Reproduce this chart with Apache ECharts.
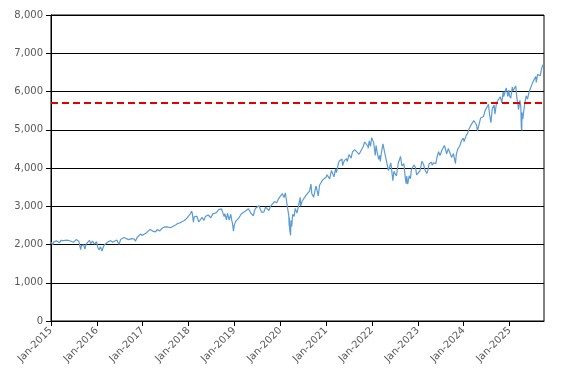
<!DOCTYPE html>
<html>
<head>
<meta charset="utf-8">
<script src="https://cdn.jsdelivr.net/npm/echarts@6/dist/echarts.min.js"></script>
<style>html,body{margin:0;padding:0;background:#fff}#c{width:572px;height:384px}</style>
</head>
<body>
<div id="c"></div>
<script>
// Index closes: [date, value]
var spx = [
['2015-01-02',2058],['2015-01-15',1992],['2015-01-22',2063],['2015-02-02',2021],['2015-02-13',2096],['2015-02-25',2113],['2015-03-10',2044],['2015-03-20',2108],['2015-03-26',2056],['2015-04-10',2102],['2015-04-24',2117],['2015-05-08',2116],['2015-05-21',2131],['2015-06-05',2092],['2015-06-19',2110],['2015-06-29',2057],['2015-07-08',2046],['2015-07-20',2128],['2015-07-31',2104],['2015-08-11',2084],['2015-08-20',2035],['2015-08-25',1868],['2015-08-31',1972],['2015-09-10',1952],['2015-09-17',1995],['2015-09-28',1881],['2015-10-09',2014],['2015-10-22',2052],['2015-11-03',2109],['2015-11-13',2023],['2015-11-27',2090],['2015-12-02',2079],['2015-12-14',2012],['2015-12-29',2078],
['2016-01-08',1922],['2016-01-20',1859],['2016-01-29',1940],['2016-02-11',1829],['2016-02-22',1946],['2016-03-04',1999],['2016-03-17',2040],['2016-04-01',2072],['2016-04-20',2102],['2016-05-06',2057],['2016-05-19',2040],['2016-06-08',2119],['2016-06-16',2077],['2016-06-27',2001],['2016-07-08',2129],['2016-07-21',2165],['2016-08-05',2183],['2016-08-15',2190],['2016-09-09',2128],['2016-09-22',2177],['2016-10-07',2153],['2016-10-25',2143],['2016-11-04',2085],['2016-11-16',2176],['2016-12-01',2191],['2016-12-13',2271],['2016-12-30',2239],
['2017-01-13',2274],['2017-01-26',2296],['2017-02-10',2316],['2017-03-01',2395],['2017-03-14',2365],['2017-03-27',2341],['2017-04-13',2329],['2017-04-25',2388],['2017-05-17',2357],['2017-05-31',2412],['2017-06-09',2432],['2017-06-19',2453],['2017-06-29',2419],['2017-07-14',2459],['2017-07-27',2475],['2017-08-10',2438],['2017-08-18',2425],['2017-09-01',2476],['2017-09-20',2508],['2017-10-06',2549],['2017-10-23',2564],['2017-11-08',2594],['2017-11-15',2565],['2017-11-29',2626],['2017-12-15',2675],['2017-12-29',2673],
['2018-01-12',2786],['2018-01-26',2872],['2018-02-02',2762],['2018-02-08',2581],['2018-02-16',2732],['2018-02-26',2779],['2018-03-08',2738],['2018-03-12',2783],['2018-03-23',2588],['2018-04-02',2582],['2018-04-18',2708],['2018-05-03',2629],['2018-05-14',2730],['2018-06-06',2772],['2018-06-13',2775],['2018-06-27',2699],['2018-07-13',2801],['2018-07-25',2846],['2018-08-10',2833],['2018-08-29',2914],['2018-09-20',2930],['2018-10-03',2925],['2018-10-11',2728],['2018-10-17',2809],['2018-10-29',2641],['2018-11-07',2814],['2018-11-20',2641],['2018-12-03',2790],['2018-12-10',2637],['2018-12-17',2546],['2018-12-24',2351],['2018-12-31',2507],
['2019-01-10',2597],['2019-01-24',2643],['2019-02-08',2708],['2019-02-22',2793],['2019-03-08',2743],['2019-03-21',2855],['2019-04-05',2893],['2019-04-23',2934],['2019-05-03',2946],['2019-05-13',2812],['2019-05-31',2752],['2019-06-10',2886],['2019-06-20',2954],['2019-07-03',2996],['2019-07-15',3014],['2019-07-26',3025],['2019-08-05',2844],['2019-08-14',2840],['2019-08-23',2847],['2019-09-06',2979],['2019-09-19',3006],['2019-10-02',2888],['2019-10-15',2996],['2019-10-30',3046],['2019-11-15',3120],['2019-11-29',3141],['2019-12-03',3093],['2019-12-17',3192],['2019-12-31',3231],
['2020-01-17',3330],['2020-01-31',3226],['2020-02-10',3352],['2020-02-19',3386],['2020-02-27',2979],['2020-03-03',3003],['2020-03-09',2747],['2020-03-12',2481],['2020-03-13',2711],['2020-03-16',2386],['2020-03-23',2237],['2020-03-26',2630],['2020-04-01',2471],['2020-04-09',2790],['2020-04-21',2737],['2020-04-29',2940],['2020-05-13',2820],['2020-05-27',3036],['2020-06-08',3232],['2020-06-11',3002],['2020-06-23',3131],['2020-07-08',3169],['2020-07-22',3277],['2020-08-05',3328],['2020-08-21',3397],['2020-09-02',3580],['2020-09-08',3332],['2020-09-23',3237],['2020-10-12',3534],['2020-10-30',3270],['2020-11-09',3550],['2020-11-24',3635],['2020-12-08',3702],['2020-12-31',3756],
['2021-01-08',3825],['2021-01-21',3853],['2021-01-29',3714],['2021-02-12',3934],['2021-02-25',3829],['2021-03-04',3768],['2021-03-17',3975],['2021-03-24',3881],['2021-04-09',4129],['2021-04-16',4185],['2021-05-07',4233],['2021-05-12',4063],['2021-05-25',4188],['2021-06-11',4247],['2021-06-18',4166],['2021-07-02',4352],['2021-07-19',4258],['2021-07-29',4419],['2021-08-16',4479],['2021-08-30',4529],['2021-09-02',4537],['2021-09-20',4358],['2021-09-30',4308],['2021-10-04',4300],['2021-10-21',4549],['2021-11-04',4680],['2021-11-18',4704],['2021-11-30',4567],['2021-12-01',4513],['2021-12-10',4712],['2021-12-20',4568],['2021-12-29',4793],
['2022-01-03',4797],['2022-01-14',4663],['2022-01-27',4326],['2022-02-02',4589],['2022-02-11',4418],['2022-02-23',4226],['2022-03-04',4329],['2022-03-08',4171],['2022-03-17',4411],['2022-03-29',4632],['2022-04-11',4413],['2022-04-20',4459],['2022-04-29',4132],['2022-05-06',4124],['2022-05-12',3930],['2022-05-20',3901],['2022-05-31',4132],['2022-06-02',4177],['2022-06-16',3667],['2022-06-24',3912],['2022-07-07',3903],['2022-07-14',3790],['2022-07-29',4130],['2022-08-16',4305],['2022-08-26',4058],['2022-09-12',4110],['2022-09-22',3758],['2022-09-30',3586],['2022-10-04',3791],['2022-10-12',3577],['2022-10-24',3797],['2022-11-03',3720],['2022-11-10',3956],['2022-11-30',4080],['2022-12-13',4019],['2022-12-22',3822],['2022-12-30',3840],
['2023-01-05',3808],['2023-01-18',3928],['2023-02-02',4179],['2023-02-16',4090],['2023-02-24',3970],['2023-03-02',3981],['2023-03-09',3919],['2023-03-13',3855],['2023-03-22',3937],['2023-03-31',4109],['2023-04-18',4154],['2023-04-25',4071],['2023-05-05',4136],['2023-05-24',4115],['2023-06-02',4282],['2023-06-15',4425],['2023-06-26',4328],['2023-07-12',4472],['2023-07-31',4589],['2023-08-11',4464],['2023-08-18',4370],['2023-08-31',4508],['2023-09-14',4505],['2023-09-27',4274],['2023-10-11',4376],['2023-10-27',4117],['2023-11-03',4358],['2023-11-14',4495],['2023-11-30',4568],['2023-12-14',4719],['2023-12-28',4783],
['2024-01-04',4688],['2024-01-19',4840],['2024-02-01',4906],['2024-02-12',5022],['2024-02-22',5087],['2024-03-08',5124],['2024-03-21',5241],['2024-04-01',5243],['2024-04-12',5123],['2024-04-19',4967],['2024-05-01',5018],['2024-05-15',5308],['2024-05-23',5268],['2024-06-07',5347],['2024-06-18',5487],['2024-06-28',5460],['2024-07-16',5667],['2024-07-25',5399],['2024-08-05',5186],['2024-08-16',5554],['2024-08-30',5648],['2024-09-06',5408],['2024-09-19',5713],['2024-10-04',5751],['2024-10-18',5864],['2024-10-31',5705],['2024-11-11',6001],['2024-11-15',5870],['2024-11-29',6032],['2024-12-06',6090],['2024-12-18',5872],['2024-12-26',6037],['2024-12-31',5882],
['2025-01-10',5827],['2025-01-23',6119],['2025-01-27',6012],['2025-02-07',6026],['2025-02-19',6144],['2025-02-27',5861],['2025-03-10',5614],['2025-03-13',5522],['2025-03-24',5768],['2025-03-31',5612],['2025-04-04',5074],['2025-04-08',4983],['2025-04-09',5457],['2025-04-16',5276],['2025-04-25',5525],['2025-05-02',5687],['2025-05-13',5887],['2025-05-23',5803],['2025-06-06',6000],['2025-06-20',5968],['2025-06-30',6205],['2025-07-10',6281],['2025-07-28',6390],['2025-08-01',6238],['2025-08-12',6446],['2025-08-22',6467],['2025-09-02',6416],['2025-09-12',6584],['2025-09-22',6693],['2025-09-30',6688]
];
var refLevel = 5700;
var yTicks = [0,1000,2000,3000,4000,5000,6000,7000,8000];
var xStartYear = 2015, xEndYear = 2025.75;

function toYear(s){
  var p = s.split('-').map(Number);
  var start = Date.UTC(p[0],0,1), end = Date.UTC(p[0]+1,0,1);
  return p[0] + (Date.UTC(p[0],p[1]-1,p[2]) - start)/(end-start);
}
var seriesData = spx.map(function(d){ return [toYear(d[0]), d[1]]; });

var chart = echarts.init(document.getElementById('c'), null, {renderer:'canvas'});
var labelColor = '#595959';
chart.setOption({
  animation: false,
  grid: {left:51, right:28, top:15, bottom:63, show:true, borderColor:'#000', borderWidth:1, backgroundColor:'transparent'},
  xAxis: {
    type:'value', min:xStartYear, max:xEndYear, interval:1,
    axisLine:{show:true, lineStyle:{color:'#000', width:1}},
    axisTick:{show:true, length:5, lineStyle:{color:'#000'}},
    splitLine:{show:false},
    axisLabel:{rotate:45, margin:8, color:labelColor, fontFamily:'DejaVu Sans', fontSize:10, showMaxLabel:false,
      formatter:function(v){ return 'Jan-' + Math.round(v); }}
  },
  yAxis: {
    type:'value', min:yTicks[0], max:yTicks[yTicks.length-1], interval:1000,
    axisLine:{show:true, lineStyle:{color:'#000', width:1}},
    axisTick:{show:true, length:5, lineStyle:{color:'#000'}},
    splitLine:{show:true, lineStyle:{color:'#000', width:1}},
    axisLabel:{margin:8, color:labelColor, fontFamily:'DejaVu Sans', fontSize:10,
      formatter:function(v){ return v.toLocaleString('en-US'); }}
  },
  series: [{
    type:'line', data:seriesData, showSymbol:false, symbol:'none',
    lineStyle:{color:'#5b9bd5', width:1.2},
    markLine:{
      silent:true, symbol:['none','none'],
      label:{show:false},
      lineStyle:{color:'#e00000', width:2, type:[7,4]},
      data:[{yAxis:refLevel}]
    }
  }]
});
</script>
</body>
</html>
